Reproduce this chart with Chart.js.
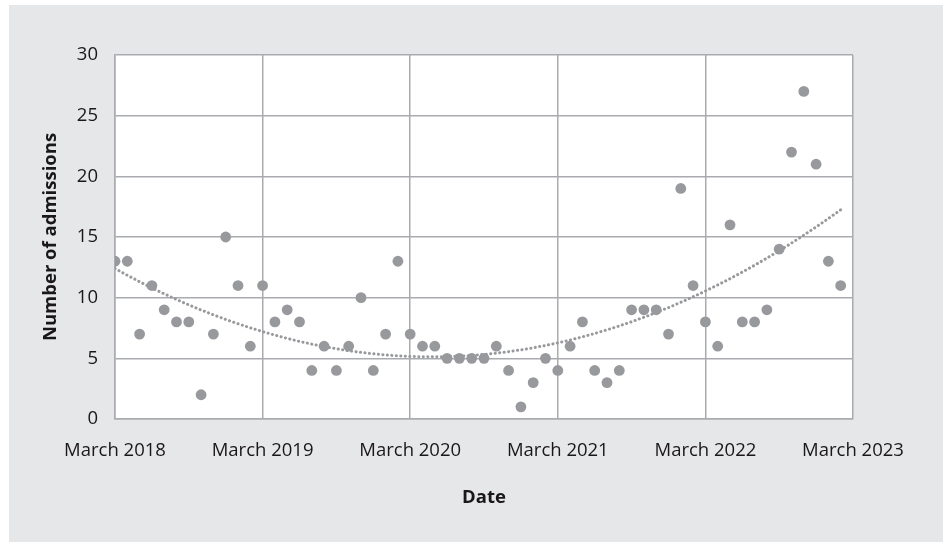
<!DOCTYPE html>
<html>
<head>
<meta charset="utf-8">
<script src="https://cdn.jsdelivr.net/npm/chart.js@4.4.1/dist/chart.umd.min.js"></script>
<style>
  html, body { margin: 0; padding: 0; background: #ffffff; }
  canvas { display: block; }
</style>
</head>
<body>
<canvas id="admissionsChart" width="943" height="542"></canvas>
<script>
// monthly admissions, March 2018 .. February 2023
var admissions = [
    13, 13, 7, 11, 9, 8, 8, 2, 7, 15, 11, 6,
    11, 8, 9, 8, 4, 6, 4, 6, 10, 4, 7, 13,
    7, 6, 6, 5, 5, 5, 5, 6, 4, 1, 3, 5,
    4, 6, 8, 4, 3, 4, 9, 9, 9, 7, 19, 11,
    8, 6, 16, 8, 8, 9, 14, 22, 27, 21, 13, 11
];

// x tick labels, one every 12 months
var yearLabels = ['March 2018', 'March 2019', 'March 2020', 'March 2021', 'March 2022', 'March 2023'];

var yTicks = [0, 5, 10, 15, 20, 25, 30];

var pointColor = '#98999c';
var gridColor = '#a9abae';
var textColor = '#1a1718';

// scatter points: x = months since March 2018
var points = admissions.map(function (v, i) {
    return { x: i, y: v };
});

// polynomial (order 2) trend line, least squares on the points above
function quadFit(pts) {
    var s = [0, 0, 0, 0, 0], t = [0, 0, 0];
    pts.forEach(function (p) {
        var xp = 1;
        for (var k = 0; k < 5; k++) {
            s[k] += xp;
            if (k < 3) t[k] += xp * p.y;
            xp *= p.x;
        }
    });
    var m = [
        [s[0], s[1], s[2], t[0]],
        [s[1], s[2], s[3], t[1]],
        [s[2], s[3], s[4], t[2]]
    ];
    for (var c = 0; c < 3; c++) {
        for (var r = c + 1; r < 3; r++) {
            var f = m[r][c] / m[c][c];
            for (var j = c; j < 4; j++) m[r][j] -= f * m[c][j];
        }
    }
    var coef = [0, 0, 0];
    for (var r2 = 2; r2 >= 0; r2--) {
        var sum = m[r2][3];
        for (var j2 = r2 + 1; j2 < 3; j2++) sum -= m[r2][j2] * coef[j2];
        coef[r2] = sum / m[r2][r2];
    }
    return coef;
}

var coef = quadFit(points);
var trend = points.map(function (p) {
    return { x: p.x, y: coef[0] + coef[1] * p.x + coef[2] * p.x * p.x };
});

var backgroundPlugin = {
    id: 'panel',
    beforeDraw: function (chart) {
        var ctx = chart.ctx;
        var a = chart.chartArea;
        ctx.save();
        ctx.fillStyle = '#e6e7e8';
        ctx.fillRect(9, 5, chart.width - 9, chart.height - 5);
        ctx.fillStyle = '#ffffff';
        ctx.fillRect(a.left, a.top, a.right - a.left, a.bottom - a.top);
        ctx.restore();
    }
};

var ctx = document.getElementById('admissionsChart').getContext('2d');

new Chart(ctx, {
    type: 'scatter',
    data: {
        datasets: [{
            /* linia trendu */
            type: 'line',
            data: trend,
            borderColor: pointColor,
            borderWidth: 3,
            borderDash: [0.1, 4.4],
            borderCapStyle: 'round',
            pointRadius: 0,
            tension: 0,
            fill: false,
            order: 2
        }, {
            data: points,
            backgroundColor: pointColor,
            borderWidth: 0,
            pointRadius: 5.4,
            order: 1
        }]
    },
    options: {
        responsive: false,
        animation: false,
        layout: {
            padding: { left: 0, top: 55, right: 90, bottom: 0 }
        },
        plugins: {
            legend: { display: false },
            tooltip: { enabled: false }
        },
        scales: {
            x: {
                type: 'linear',
                min: 0,
                max: 60,
                afterBuildTicks: function (scale) {
                    scale.ticks = yearLabels.map(function (l, i) { return { value: i * 12 }; });
                },
                afterFit: function (scale) { scale.height = 123; },
                ticks: {
                    callback: function (v) { return yearLabels[v / 12]; },
                    color: textColor,
                    font: { family: 'Open Sans', size: 18.5 },
                    padding: 21,
                    maxRotation: 0,
                    autoSkip: false
                },
                grid: { color: gridColor, lineWidth: 1.5, drawTicks: false },
                border: { color: gridColor, width: 1.5 },
                title: {
                    display: true,
                    text: 'Date',
                    color: textColor,
                    font: { family: 'Open Sans', size: 18.5, weight: 'bold' },
                    padding: { bottom: 33 }
                }
            },
            y: {
                min: 0,
                max: 30,
                afterBuildTicks: function (scale) {
                    scale.ticks = yTicks.map(function (v) { return { value: v }; });
                },
                afterFit: function (scale) { scale.width = 115; },
                ticks: {
                    color: textColor,
                    font: { family: 'Open Sans', size: 18.5 },
                    padding: 17
                },
                grid: { color: gridColor, lineWidth: 1.5, drawTicks: false },
                border: { color: gridColor, width: 1.5 },
                title: {
                    display: true,
                    text: 'Number of admissions',
                    color: textColor,
                    font: { family: 'Open Sans', size: 18.5, weight: 'bold' },
                    padding: { top: 40 }
                }
            }
        }
    },
    plugins: [backgroundPlugin]
});
</script>
</body>
</html>
